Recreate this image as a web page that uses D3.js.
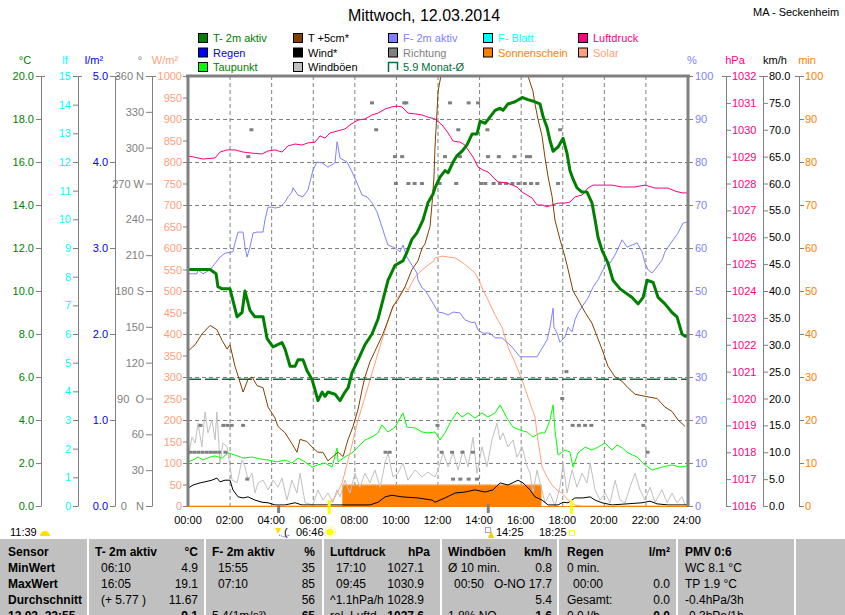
<!DOCTYPE html>
<html>
<head>
<meta charset="utf-8">
<script src="https://cdn.jsdelivr.net/npm/d3@7"></script>
<style>
  body { margin: 0; background: #fff; }
  svg { display: block; font-family: "Liberation Sans", Arial, sans-serif; }
</style>
</head>
<body>
<div id="chart"></div>
<script>
// Series as [hour, value]
const t2m = [[0,11.0],[0.58,11.0],[1.06,11.0],[1.35,10.8],[1.44,10.2],[1.64,10.1],[2.02,10.1],[2.36,8.8],[2.6,9.0],[2.74,10.0],[2.98,9.1],[3.22,8.8],[3.61,8.8],[3.8,7.8],[3.94,7.6],[4.09,7.4],[4.52,7.6],[4.67,7.3],[4.91,6.5],[5.15,6.5],[5.29,6.8],[5.53,6.8],[5.72,6.3],[5.96,5.9],[6.11,5.4],[6.25,4.9],[6.45,5.3],[6.59,5.1],[6.73,5.3],[7.07,5.2],[7.31,4.9],[7.55,5.3],[7.7,5.5],[7.89,6.2],[8.18,6.8],[8.51,7.5],[8.85,8.0],[9.14,8.7],[9.38,9.6],[9.62,10.5],[9.72,10.7],[9.96,11.2],[10.34,11.4],[10.53,11.8],[10.77,12.4],[11.01,12.7],[11.3,13.3],[11.54,14.1],[11.78,14.5],[11.88,14.8],[12.12,15.3],[12.36,15.6],[12.51,15.5],[12.75,16.0],[12.94,16.3],[13.18,16.5],[13.42,16.8],[13.66,17.3],[13.9,17.3],[14.05,17.9],[14.29,17.8],[14.53,18.1],[14.77,18.4],[15.01,18.5],[15.15,18.4],[15.39,18.7],[15.73,18.8],[16.07,19.0],[16.35,18.9],[16.69,18.8],[16.93,18.7],[17.08,18.1],[17.27,17.6],[17.41,17.0],[17.56,16.5],[17.8,16.7],[18.04,17.1],[18.23,16.4],[18.37,15.6],[18.52,15.2],[18.71,14.8],[18.95,14.6],[19.19,14.6],[19.43,14.1],[19.58,13.3],[19.72,12.5],[19.91,11.9],[20.2,11.3],[20.44,10.5],[20.78,10.1],[21.36,9.7],[21.65,9.4],[21.89,9.7],[22.08,10.5],[22.37,10.4],[22.61,9.7],[22.94,9.4],[23.28,9.0],[23.52,8.8],[23.76,8.0],[23.91,7.9],[24,7.9]];

const t5cm = [[0,7.2],[0.34,7.5],[0.67,8.0],[1.06,8.4],[1.39,8.2],[1.64,7.7],[1.88,7.3],[2.02,7.5],[2.26,6.5],[2.65,5.3],[2.89,5.9],[3.08,6.0],[3.32,5.6],[3.61,5.5],[3.85,4.6],[4.18,4.1],[4.33,3.7],[4.67,3.4],[5.0,2.9],[5.24,2.5],[5.39,3.1],[5.72,3.0],[6.01,2.7],[6.25,2.5],[6.49,2.5],[6.73,2.1],[6.97,2.3],[7.22,2.5],[7.46,2.3],[7.7,3.1],[7.94,3.7],[8.18,4.5],[8.37,5.4],[8.51,6.0],[8.75,6.7],[8.99,7.2],[9.33,7.9],[9.57,8.5],[9.86,9.3],[10.1,9.6],[10.44,10.2],[10.77,11.0],[11.06,11.4],[11.26,12.0],[11.4,12.2],[11.64,13.0],[11.74,14.1],[11.83,15.3],[11.88,16.7],[11.98,18.4],[12.03,19.3],[12.22,20.3],[12.6,23.0],[13.5,26.0],[14.5,27.0],[15.5,24.0],[16.2,21.0],[16.35,20.0],[16.59,19.3],[16.69,18.7],[16.83,18.0],[17.03,17.2],[17.17,16.2],[17.32,15.3],[17.51,14.4],[17.65,13.3],[17.89,12.4],[18.13,11.6],[18.28,11.0],[18.52,10.0],[18.76,9.6],[19.1,9.0],[19.43,8.5],[19.67,7.9],[19.91,7.3],[20.2,6.5],[20.54,6.0],[20.88,5.8],[21.16,5.5],[21.5,5.2],[21.98,5.1],[22.56,5.0],[22.94,4.6],[23.28,4.4],[23.57,4.0],[23.91,3.7]];

const f2m = [[0,54.0],[0.43,54.0],[0.48,54.9],[0.72,54.0],[1.06,54.9],[1.54,57.9],[1.78,58.8],[2.16,59.1],[2.26,61.2],[2.41,63.7],[2.65,63.7],[2.74,60.2],[2.84,57.9],[2.98,60.2],[3.13,63.5],[3.32,63.7],[3.61,63.7],[3.7,66.5],[3.85,69.5],[4.04,69.5],[4.18,69.3],[4.43,69.5],[4.67,70.7],[4.81,71.9],[5.0,73.0],[5.05,74.0],[5.29,72.3],[5.53,71.9],[5.77,73.5],[6.01,78.1],[6.2,80.0],[6.45,79.8],[6.73,78.8],[7.07,79.8],[7.17,84.7],[7.22,83.5],[7.31,80.9],[7.65,80.0],[7.89,77.7],[8.13,75.1],[8.37,72.3],[8.61,71.9],[8.85,70.5],[9.09,68.4],[9.33,64.9],[9.48,62.6],[9.62,60.7],[9.96,60.0],[10.2,59.1],[10.34,60.7],[10.53,57.9],[10.77,56.0],[11.01,54.2],[11.06,52.6],[11.26,50.7],[11.4,50.2],[11.78,47.2],[12.03,45.1],[12.27,44.9],[12.51,44.4],[12.75,45.1],[13.08,44.9],[13.32,43.3],[13.66,42.6],[13.8,42.8],[13.95,40.9],[14.19,40.2],[14.53,40.2],[14.77,39.1],[15.1,39.1],[15.34,38.1],[15.58,37.0],[15.97,34.7],[16.35,34.7],[16.79,34.7],[17.03,36.7],[17.27,38.6],[17.41,41.6],[17.56,46.0],[17.6,41.6],[17.75,40.2],[17.89,38.1],[18.13,39.3],[18.28,41.6],[18.47,40.5],[18.61,43.3],[18.76,44.9],[18.95,46.3],[19.24,48.4],[19.48,50.9],[19.72,52.6],[19.96,54.9],[20.15,56.7],[20.3,56.5],[20.54,58.4],[20.88,61.9],[21.12,60.2],[21.36,60.7],[21.6,61.2],[21.84,59.1],[21.98,56.5],[22.13,54.9],[22.32,54.2],[22.56,55.6],[22.8,57.2],[22.94,59.1],[23.09,60.2],[23.33,61.9],[23.57,63.5],[23.81,65.8],[24,66.0]];

const luftdruck = [[0,1029.02],[0.24,1028.99],[0.72,1028.91],[1.3,1028.95],[1.54,1029.17],[1.88,1029.25],[2.26,1029.25],[2.65,1029.17],[3.08,1029.13],[3.56,1029.1],[3.85,1029.21],[4.18,1029.25],[4.52,1029.17],[4.81,1029.4],[5.15,1029.47],[5.48,1029.43],[5.77,1029.51],[6.11,1029.54],[6.35,1029.77],[6.59,1029.69],[6.83,1029.88],[7.17,1029.95],[7.55,1030.03],[7.79,1030.18],[7.94,1030.25],[8.18,1030.36],[8.51,1030.4],[8.85,1030.55],[9.14,1030.62],[9.48,1030.77],[9.81,1030.85],[10.05,1030.88],[10.29,1030.85],[10.58,1030.62],[10.92,1030.59],[11.26,1030.55],[11.54,1030.47],[11.88,1030.4],[12.22,1030.18],[12.51,1029.88],[12.75,1029.58],[13.08,1029.54],[13.32,1029.43],[13.47,1029.25],[13.71,1028.99],[13.95,1028.61],[14.19,1028.5],[14.43,1028.43],[14.67,1028.24],[14.91,1028.06],[15.34,1028.02],[15.82,1027.87],[16.07,1027.68],[16.31,1027.57],[16.55,1027.46],[16.79,1027.2],[17.03,1027.2],[17.27,1027.13],[17.51,1027.2],[17.8,1027.27],[18.13,1027.27],[18.37,1027.31],[18.61,1027.5],[18.95,1027.57],[19.24,1027.83],[19.48,1027.94],[19.91,1027.94],[20.39,1027.94],[20.88,1027.87],[21.5,1027.87],[21.98,1027.94],[22.46,1027.83],[23.09,1027.83],[23.42,1027.72],[23.76,1027.65],[24,1027.65]];

const taupunkt = [[0,2.05],[0.24,2.14],[0.48,2.28],[0.72,2.14],[1.06,2.28],[1.3,2.33],[1.64,2.23],[1.92,2.47],[2.26,2.37],[2.65,2.23],[3.08,2.28],[3.46,2.19],[3.85,2.14],[4.28,2.05],[4.67,2.14],[5.0,2.0],[5.29,2.23],[5.63,2.05],[5.96,1.81],[6.25,1.91],[6.59,2.0],[6.93,1.81],[7.17,2.7],[7.22,2.05],[7.55,2.28],[7.89,2.47],[8.18,2.74],[8.51,3.07],[8.85,3.21],[9.14,3.4],[9.33,3.77],[9.62,3.44],[9.96,3.67],[10.34,4.33],[10.53,3.67],[10.92,3.63],[11.26,3.44],[11.54,3.4],[11.88,3.44],[12.12,3.07],[12.36,3.4],[12.6,3.86],[12.94,4.37],[13.18,4.14],[13.47,4.33],[13.8,4.09],[14.14,4.33],[14.43,4.14],[14.77,4.33],[15.01,4.7],[15.34,4.09],[15.63,3.67],[15.97,3.53],[16.31,3.44],[16.59,3.21],[16.93,3.4],[17.17,3.4],[17.41,4.0],[17.56,4.7],[17.65,3.53],[17.8,2.37],[18.13,2.6],[18.37,2.51],[18.52,1.81],[18.76,2.47],[19.1,2.74],[19.43,2.6],[19.72,2.74],[20.06,2.93],[20.39,2.6],[20.64,2.84],[20.88,2.7],[21.16,2.47],[21.6,2.28],[21.98,1.91],[22.32,1.67],[22.8,1.81],[23.28,1.91],[23.67,1.81],[24,1.86]];

const windboeen = [[0,8.6],[0.19,12.8],[0.34,11.7],[0.48,15.4],[0.67,11.0],[0.82,17.5],[0.96,13.6],[1.15,16.0],[1.3,12.3],[1.39,17.5],[1.54,8.0],[1.68,11.7],[1.88,11.0],[2.12,4.8],[2.36,4.3],[2.6,8.6],[2.74,7.3],[2.89,4.8],[3.08,6.1],[3.22,2.4],[3.37,4.3],[3.61,4.8],[3.85,3.0],[4.09,4.8],[4.33,3.5],[4.52,5.2],[4.76,1.1],[5.0,4.8],[5.24,2.4],[5.39,6.1],[5.63,0.6],[6.01,0.2],[6.25,3.0],[6.49,1.1],[6.73,2.4],[6.97,0.7],[7.17,3.0],[7.31,1.7],[7.55,4.8],[7.79,2.4],[8.03,6.1],[8.27,3.5],[8.51,6.1],[8.75,4.3],[8.99,6.7],[9.24,3.5],[9.48,8.0],[9.62,9.9],[9.86,5.4],[10.1,6.1],[10.34,8.0],[10.58,4.8],[10.92,6.7],[11.26,5.4],[11.54,6.3],[11.88,5.4],[12.03,6.7],[12.27,9.9],[12.51,7.3],[12.75,9.9],[12.99,6.7],[13.23,10.4],[13.47,7.3],[13.71,12.8],[13.9,6.1],[14.14,11.0],[14.38,7.3],[14.62,12.3],[14.86,15.4],[15.01,12.3],[15.15,13.6],[15.39,11.0],[15.63,12.3],[15.82,9.1],[16.07,11.0],[16.31,7.3],[16.45,6.1],[16.59,2.4],[16.79,6.7],[16.93,4.3],[17.17,0.6],[17.41,2.4],[17.65,0],[17.89,3.5],[18.04,8.0],[18.23,2.4],[18.47,6.7],[18.71,3.5],[18.95,6.1],[19.19,4.3],[19.34,8.0],[19.58,3.0],[19.82,1.1],[20.06,2.4],[20.3,0.6],[20.54,4.8],[20.78,1.1],[21.02,0.6],[21.26,3.5],[21.5,6.1],[21.74,3.0],[21.98,1.1],[22.22,3.5],[22.46,0.7],[22.8,3.0],[23.04,0.6],[23.28,2.4],[23.52,0.6],[23.76,1.7],[23.91,0.2]];

const wind = [[0,3.3],[0.24,3.9],[0.58,4.3],[0.82,4.5],[1.15,4.8],[1.39,5.2],[1.54,4.5],[1.78,4.8],[2.02,4.8],[2.16,3.0],[2.41,1.7],[2.65,1.5],[2.89,1.7],[3.22,1.1],[3.56,0.7],[3.85,0.6],[4.18,0.2],[4.67,0.2],[5.15,0.6],[5.48,0.2],[6.59,0.2],[8.75,0.2],[9.14,0.7],[9.48,1.7],[9.81,2.0],[10.29,1.7],[11.06,1.5],[11.74,1.1],[11.88,0.7],[12.36,1.5],[12.84,2.4],[13.32,2.6],[13.8,3.0],[14.29,2.6],[14.67,3.0],[15.01,4.3],[15.39,3.9],[15.87,4.8],[16.11,4.3],[16.45,3.0],[16.69,1.7],[17.03,1.1],[17.32,0.2],[17.8,0.2],[18.04,0.7],[18.28,0.6],[18.61,1.5],[18.99,1.5],[19.34,1.7],[19.58,1.1],[19.91,0.6],[20.39,0.2],[21.84,0.6],[22.22,0.9],[22.56,0.4],[23.09,0.2],[24,0.2]];

const solar = [[0,0],[6.73,0],[7.07,21],[7.41,53],[7.7,107],[7.94,153],[8.18,200],[8.51,253],[8.85,309],[9.14,356],[9.48,409],[9.81,456],[10.1,486],[10.44,509],[10.58,502],[10.92,533],[11.26,549],[11.54,560],[11.83,570],[11.88,577],[12.22,581],[12.51,579],[12.84,577],[13.18,567],[13.47,556],[13.8,542],[14.05,519],[14.19,502],[14.43,479],[14.77,444],[15.1,416],[15.39,370],[15.73,333],[16.07,293],[16.35,253],[16.69,207],[16.83,153],[17.03,91],[17.27,67],[17.51,49],[17.75,37],[17.99,30],[18.28,14],[18.61,2],[18.95,0],[24,0]];

const sonnenschein = [[7.42,0],[7.42,5],[17.0,5],[17.0,0]];

const richtungTime = [0.1,0.3,0.5,0.7,0.9,1.1,1.3,1.5,1.8,0.6,1.7,1.9,2.1,2.65,2.85,2.9,3.05,8.85,9.05,9.5,9.7,9.95,10.0,10.3,10.4,10.5,10.6,10.9,11.25,12.0,12.1,12.2,12.36,12.6,12.7,12.75,12.9,13.0,13.08,13.1,13.2,13.5,13.5,13.7,13.9,13.95,14.1,14.3,14.43,14.4,14.7,14.95,15.0,15.3,15.6,15.7,15.9,16.2,16.3,16.45,16.5,16.8,17.8,17.9,18.0,18.2,18.5,18.8,19.1,19.4,21.9,22.1];
const richtungDeg = [45,45,45,45,45,45,45,45,45,67.5,67.5,67.5,67.5,67.5,22.5,292.5,315,337.5,315,45,45,292.5,270,292.5,337.5,337.5,270,270,270,67.5,270,45,292.5,337.5,45,22.5,270,315,292.5,22.5,45,337.5,22.5,45,22.5,337.5,270,270,292.5,315,270,292.5,270,270,270,292.5,270,270,292.5,292.5,270,270,270,315,90,112.5,67.5,67.5,67.5,67.5,67.5,45];

const monatMittel = 5.9;

// Axes ticks
const cTicks = d3.range(0, 20.1, 2);
const lfTicks = d3.range(0, 16, 1);
const rainTicks = [0, 1, 2, 3, 4, 5];
const dirTicks = d3.range(0, 361, 30);
const dirNames = { 0: '0\u00a0\u00a0\u00a0N', 90: '90\u00a0\u00a0O', 180: '180 S', 270: '270 W', 360: '360 N' };
const solarTicks = d3.range(0, 1001, 50);
const pctTicks = d3.range(0, 101, 10);
const hpaTicks = d3.range(1016, 1033, 1);
const kmhTicks = d3.range(0, 81, 5);
const minTicks = d3.range(0, 101, 10);
const hourTicks = d3.range(0, 25, 2);

const legendCols = [
  ['T- 2m aktiv', 'Regen', 'Taupunkt'],
  ['T +5cm*', 'Wind*', 'Windböen'],
  ['F- 2m aktiv', 'Richtung', '5.9 Monat-Ø'],
  ['F- Blatt', 'Sonnenschein'],
  ['Luftdruck', 'Solar'],
];

// Table below the chart
const sensorCol = ['Sensor', 'MinWert', 'MaxWert', 'Durchschnitt', '12.03. 22:55'];
const tableCols = [
  [['T- 2m aktiv', '°C'], ['06:10', '4.9'], ['16:05', '19.1'], ['(+ 5.77 )', '11.67'], ['', '9.1']],
  [['F- 2m aktiv', '%'], ['15:55', '35'], ['07:10', '85'], ['', '56'], ['5.4(1m/s²)', '65']],
  [['Luftdruck', 'hPa'], ['17:10', '1027.1'], ['09:45', '1030.9'], ['^1.1hPa/h', '1028.9'], ['rel. Luftd.', '1027.6']],
  [['Windböen', 'km/h'], ['Ø 10 min.', '0.8'], ['00:50', 'O-NO 17.7'], ['', '5.4'], ['1.8% NO', '1.6']],
  [['Regen', 'l/m²'], ['0 min.', ''], ['00:00', '0.0'], ['Gesamt:', '0.0'], ['0.0 l/h', '0.0']],
];
const pmvCol = ['PMV 0:6', 'WC 8.1 °C', 'TP 1.9 °C', '-0.4hPa/3h', '-0.3hPa/1h'];

// Colours
const colour = {
  'T- 2m aktiv': '#008000', 'Regen': '#0000ff', 'Taupunkt': '#00ff00',
  'T +5cm*': '#804000', 'Wind*': '#000000', 'Windböen': '#c0c0c0',
  'F- 2m aktiv': '#8080ff', 'Richtung': '#808080', '5.9 Monat-Ø': '#00703c',
  'F- Blatt': '#00ffff', 'Sonnenschein': '#ff8000', 'Luftdruck': '#ff0080', 'Solar': '#ffa07a',
};
const legendText = { 'T +5cm*': '#000', 'Wind*': '#000', 'Windböen': '#000', 'Taupunkt': '#008000' };

const svg = d3.select('#chart').append('svg').attr('width', 845).attr('height', 615);

// Scales
const x = d3.scaleLinear().domain([0, 24]).range([188, 687]);
const yRange = [506, 76];
const yC = d3.scaleLinear().domain([0, 20]).range(yRange);
const yLf = d3.scaleLinear().domain([0, 15]).range(yRange);
const yRain = d3.scaleLinear().domain([0, 5]).range(yRange);
const yDir = d3.scaleLinear().domain([0, 360]).range(yRange);
const ySolar = d3.scaleLinear().domain([0, 1000]).range(yRange);
const yPct = d3.scaleLinear().domain([0, 100]).range(yRange);
const yHpa = d3.scaleLinear().domain([1016, 1032]).range(yRange);
const yKmh = d3.scaleLinear().domain([0, 80]).range(yRange);
const yMin = d3.scaleLinear().domain([0, 100]).range(yRange);

// Title
svg.append('text').attr('x', 424).attr('y', 21).attr('text-anchor', 'middle')
  .attr('font-size', '16px').text('Mittwoch, 12.03.2014');
svg.append('text').attr('x', 753).attr('y', 16).attr('font-size', '11px').text('MA - Seckenheim');

// Legend
legendCols.forEach((col, ci) => {
  col.forEach((name, ri) => {
    const bx = 198 + ci * 95;
    const by = 33 + ri * 14.5;
    if (name === '5.9 Monat-Ø') {
      svg.append('path').attr('d', `M${bx + 0.5},${by + 10} V${by + 0.5} H${bx + 9.5} V${by + 8}`)
        .attr('fill', 'none').attr('stroke', colour[name]).attr('stroke-width', 1.5);
    } else {
      svg.append('rect').attr('x', bx + 0.5).attr('y', by + 0.5).attr('width', 9).attr('height', 9)
        .attr('fill', colour[name]).attr('stroke', '#000');
    }
    svg.append('text').attr('x', bx + 15).attr('y', by + 9).attr('font-size', '11px')
      .attr('fill', legendText[name] || colour[name]).text(name);
  });
});

// Unit labels
const units = [
  ['°C', 25, '#008000'], ['lf', 65, '#00ffff'], ['l/m²', 94, '#0000ff'], ['°', 140, '#808080'], ['W/m²', 165, '#ffa07a'],
  ['%', 692, '#8080ff'], ['hPa', 735, '#ff0080'], ['km/h', 775, '#000'], ['min', 807, '#ff8000'],
];
units.forEach(([t, ux, c]) => {
  svg.append('text').attr('x', ux).attr('y', 64).attr('text-anchor', 'middle')
    .attr('font-size', '11px').attr('fill', c).text(t);
});

// Axis helper
function drawAxis(axis, xPos, textColour, withDomain) {
  const g = svg.append('g').attr('transform', `translate(${xPos},0)`).style('color', '#808080').call(axis);
  g.selectAll('text').attr('fill', textColour).attr('font-size', '11px').attr('font-family', '"Liberation Sans", Arial, sans-serif');
  if (!withDomain) g.select('.domain').remove();
  return g;
}

drawAxis(d3.axisLeft(yC).tickValues(cTicks).tickFormat(d3.format('.1f')).tickSize(5).tickSizeOuter(0).tickPadding(2), 41, '#008000', true);
drawAxis(d3.axisLeft(yLf).tickValues(lfTicks).tickFormat(d3.format('d')).tickSize(5).tickSizeOuter(0).tickPadding(2), 78, '#00ffff', true);
drawAxis(d3.axisLeft(yRain).tickValues(rainTicks).tickFormat(d3.format('.1f')).tickSize(5).tickSizeOuter(0).tickPadding(2), 115, '#0000ff', true);
drawAxis(d3.axisLeft(yDir).tickValues(dirTicks).tickFormat((d) => dirNames[d] || d).tickSize(6).tickSizeOuter(0).tickPadding(2), 152, '#808080', true);
drawAxis(d3.axisLeft(ySolar).tickValues(solarTicks).tickFormat(d3.format('d')).tickSize(5).tickSizeOuter(0).tickPadding(1), 188, '#ffa07a', false);
drawAxis(d3.axisRight(yPct).tickValues(pctTicks).tickFormat(d3.format('d')).tickSize(5).tickSizeOuter(0).tickPadding(2), 688, '#8080ff', false);
drawAxis(d3.axisRight(yHpa).tickValues(hpaTicks).tickFormat(d3.format('d')).tickSize(5).tickSizeOuter(0).tickPadding(1), 726, '#ff0080', true);
drawAxis(d3.axisRight(yKmh).tickValues(kmhTicks).tickFormat(d3.format('.1f')).tickSize(5).tickSizeOuter(0).tickPadding(1), 763, '#000', true);
drawAxis(d3.axisRight(yMin).tickValues(minTicks).tickFormat(d3.format('d')).tickSize(5).tickSizeOuter(0).tickPadding(1), 799, '#ff8000', true);

// Small tee at the top of each axis line
[41, 78, 115, 152, 726, 763, 799].forEach((ax) => {
  svg.append('line').attr('x1', ax - 4).attr('x2', ax + 4).attr('y1', 76.5).attr('y2', 76.5).attr('stroke', '#808080');
});

// Grid
const grid = svg.append('g').attr('stroke', '#808080').attr('stroke-dasharray', '4,3');
grid.selectAll('.vg').data(hourTicks.slice(1, -1)).enter().append('line')
  .attr('x1', (d) => x(d) + 0.5).attr('x2', (d) => x(d) + 0.5).attr('y1', 76).attr('y2', 506);
grid.selectAll('.hg').data(cTicks.slice(1, -1)).enter().append('line')
  .attr('x1', 188).attr('x2', 687).attr('y1', (d) => yC(d) + 0.5).attr('y2', (d) => yC(d) + 0.5);

// Clip for the plot area
svg.append('clipPath').attr('id', 'plot').append('rect').attr('x', 188).attr('y', 77).attr('width', 499).attr('height', 430);
const plot = svg.append('g').attr('clip-path', 'url(#plot)');

// Sonnenschein area
plot.append('path').datum(sonnenschein)
  .attr('d', d3.area().x((d) => x(d[0])).y0(yMin(0)).y1((d) => yMin(d[1])))
  .attr('fill', '#ff8000');
plot.append('line').attr('x1', x(sonnenschein[1][0])).attr('x2', x(sonnenschein[2][0]))
  .attr('y1', yMin(sonnenschein[1][1]) + 0.5).attr('y2', yMin(sonnenschein[1][1]) + 0.5)
  .attr('stroke', '#ffd9b0').attr('stroke-dasharray', '1,1');

function drawLine(data, yScale, col, width) {
  plot.append('path').datum(data)
    .attr('d', d3.line().x((d) => x(d[0])).y((d) => yScale(d[1])))
    .attr('fill', 'none').attr('stroke', col).attr('stroke-width', width).attr('stroke-linejoin', 'round');
}

drawLine(windboeen, yKmh, colour['Windböen'], 1);
drawLine(wind, yKmh, colour['Wind*'], 1);
drawLine(taupunkt, yC, colour['Taupunkt'], 1);

// Richtung marks
plot.selectAll('.dir').data(richtungTime).enter().append('rect')
  .attr('x', (d) => x(d) - 2).attr('y', (d, i) => yDir(richtungDeg[i]) - 1.5)
  .attr('width', 4).attr('height', 3).attr('fill', '#808080');

drawLine(solar, ySolar, colour['Solar'], 1);
drawLine(f2m, yPct, colour['F- 2m aktiv'], 1);
drawLine(luftdruck, yHpa, colour['Luftdruck'], 1);
drawLine(t5cm, yC, colour['T +5cm*'], 1);

// Monthly mean
plot.append('line').attr('x1', 188).attr('x2', 687).attr('y1', yC(monatMittel)).attr('y2', yC(monatMittel))
  .attr('stroke', colour['5.9 Monat-Ø']).attr('stroke-width', 1.5).attr('stroke-dasharray', '13,4');

drawLine(t2m, yC, colour['T- 2m aktiv'], 3);

// Frame
svg.append('line').attr('x1', 186).attr('x2', 690).attr('y1', 76).attr('y2', 76).attr('stroke', '#808080').attr('stroke-width', 3);
svg.append('line').attr('x1', 188).attr('x2', 188).attr('y1', 76).attr('y2', 507).attr('stroke', '#808080').attr('stroke-width', 3);
svg.append('line').attr('x1', 688).attr('x2', 688).attr('y1', 76).attr('y2', 507).attr('stroke', '#808080').attr('stroke-width', 3);
svg.append('line').attr('x1', 188).attr('x2', 687).attr('y1', 506.5).attr('y2', 506.5).attr('stroke', '#ff8000').attr('stroke-width', 1);

// Time axis labels
svg.selectAll('.hl').data(hourTicks).enter().append('text')
  .attr('x', (d) => x(d)).attr('y', 524).attr('text-anchor', 'middle').attr('font-size', '11px')
  .text((d) => `${String(d).padStart(2, '0')}:00`);

// Sun and moon markers
const sunTimes = [6 + 46 / 60, 18 + 25 / 60];
const moonTimes = [4 + 20 / 60, 14 + 25 / 60];
sunTimes.forEach((t) => {
  svg.append('rect').attr('x', x(t) - 1).attr('y', 500).attr('width', 3).attr('height', 14).attr('fill', '#ffff00');
});
moonTimes.forEach((t) => {
  svg.append('rect').attr('x', x(t) - 1).attr('y', 504).attr('width', 3).attr('height', 9).attr('fill', '#808080');
});

const markY = 536;
svg.append('text').attr('x', 10).attr('y', markY).attr('font-size', '11px').text('11:39');
svg.append('path').attr('d', 'M40,536 A5,5 0 0 1 50,536 Z').attr('fill', '#ffe000');
// moon set icon
svg.append('path').attr('d', 'M275,528 L281,528 L278,534 Z').attr('fill', '#ffe000');
svg.append('path').attr('d', 'M279,535 L284,537 L290,535').attr('fill', 'none').attr('stroke', '#4040ff').attr('stroke-dasharray', '1,1');
svg.append('text').attr('x', 284).attr('y', markY).attr('font-size', '11px').text('(');
svg.append('text').attr('x', 296).attr('y', markY).attr('font-size', '11px').text('06:46');
svg.append('circle').attr('cx', 330).attr('cy', 532).attr('r', 3.5).attr('fill', '#ffff00');
svg.append('circle').attr('cx', 330).attr('cy', 532).attr('r', 5.5).attr('fill', 'none').attr('stroke', '#ffff00').attr('stroke-dasharray', '1.5,1.5');
// moon rise icon
svg.append('rect').attr('x', 485.5).attr('y', 527.5).attr('width', 5).attr('height', 5).attr('fill', 'none').attr('stroke', '#4040ff').attr('stroke-dasharray', '1,1');
svg.append('path').attr('d', 'M488,538 L491,530 L494,538 Z').attr('fill', '#f0d000');
svg.append('text').attr('x', 496).attr('y', markY).attr('font-size', '11px').text('14:25');
svg.append('text').attr('x', 539).attr('y', markY).attr('font-size', '11px').text('18:25');
svg.append('rect').attr('x', 569.5).attr('y', 530.5).attr('width', 5).attr('height', 5).attr('fill', 'none').attr('stroke', '#ffff00');

// Table
svg.append('rect').attr('x', 0).attr('y', 539).attr('width', 845).attr('height', 76).attr('fill', '#c0c0c0');
[87, 204, 322, 440, 557, 676, 794].forEach((sx) => {
  svg.append('rect').attr('x', sx).attr('y', 539).attr('width', 2).attr('height', 76).attr('fill', '#fff');
});
const rowY = [556, 572, 588, 604, 620];
const colLeft = [95, 212, 330, 448, 567];
const colRight = [198, 315, 424, 552, 670];
const table = svg.append('g').attr('font-size', '12px');
sensorCol.forEach((t, i) => {
  table.append('text').attr('x', 8).attr('y', rowY[i]).attr('font-weight', 'bold').text(t);
});
tableCols.forEach((col, ci) => {
  col.forEach(([left, right], ri) => {
    const head = ri === 0;
    const indent = !head && /^\d\d:\d\d$|^\(/.test(left) ? 6 : 0;
    table.append('text').attr('x', colLeft[ci] + indent).attr('y', rowY[ri])
      .attr('font-weight', head ? 'bold' : 'normal').text(left);
    table.append('text').attr('x', head && ci === 2 ? colRight[ci] + 6 : colRight[ci]).attr('y', rowY[ri])
      .attr('text-anchor', 'end').attr('font-weight', head || ri === 4 ? 'bold' : 'normal').text(right);
  });
});
pmvCol.forEach((t, i) => {
  table.append('text').attr('x', 685).attr('y', rowY[i]).attr('font-weight', i === 0 ? 'bold' : 'normal').text(t);
});
</script>
</body>
</html>
